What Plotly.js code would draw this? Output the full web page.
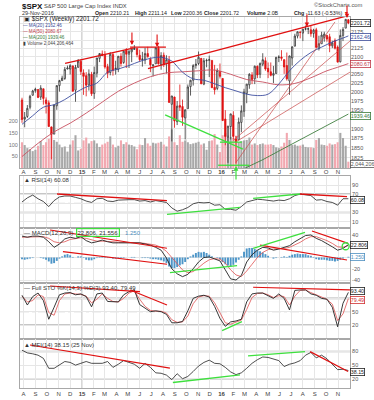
<!DOCTYPE html>
<html><head><meta charset="utf-8">
<script src="https://cdn.plot.ly/plotly-3.0.1.min.js"></script>
<style>html,body{margin:0;padding:0;background:#fff;}#chart{width:374px;height:400px;}</style>
</head><body><div id="chart"></div>
<script>
// ---------- DATA ----------
const firstWeek = [2014, 6, 28];           // Monday of first weekly bar (UTC y, m0, d)
const prevClose0 = 1978;                   // close of week before first bar
const opens = [1978,1926,1933,1958,1991,2004,2007,1986,2009,1978,
 1970,1905,1886,1962,2018,2032,2038,2065,2065,2074,
 2005,2070,2087,2054,2046,2020,2050,1996,2053,2096,
 2109,2105,2072,2055,2107,2065,2064,2102,2084,2120,
 2108,2115,2122,2125,2105,2092,2091,2110,2093,2075,
 2080,2126,2078,2105,2081,2090,1966,1986,1919,1963,
 1960,1929,1954,2015,2033,2075,2081,2096,2022,2089,
 2090,2090,2013,2010,2058,2038,1926,1878,1906,1936,
 1873,1871,1917,1947,1996,2020,2048,2037,2073,2050,
 2079,2089,2067,2057,2047,2052,2100,2100,2092,2075,
 2031,2097,2132,2162,2173,2171,2183,2183,2181,2170,
 2181,2125,2139,2158,2164,2160,2133,2149,2129,2086,
 2164,2186,2212];
const highs = [1984,1945,1964,1992,2006,2012,2008,2019,2009,1985,
 1977,1906,1965,2018,2034,2046,2071,2075,2079,2075,
 2077,2094,2093,2064,2056,2064,2057,2072,2097,2111,
 2119,2117,2080,2114,2114,2089,2103,2111,2120,2126,
 2121,2124,2135,2127,2121,2115,2127,2130,2099,2078,
 2128,2133,2114,2113,2105,2103,1989,1987,1975,2021,
 1979,1952,2021,2034,2079,2094,2116,2097,2097,2095,
 2104,2090,2077,2067,2081,2038,1950,1908,1940,1947,
 1881,1930,1963,2009,2022,2053,2056,2075,2075,2084,
 2111,2099,2084,2084,2074,2100,2105,2120,2093,2113,
 2104,2131,2169,2176,2178,2183,2194,2188,2193,2184,
 2187,2163,2175,2175,2165,2169,2148,2155,2134,2182,
 2189,2213,2213];
const lows = [1916,1904,1929,1952,1990,1998,1983,1978,1965,1941,
 1906,1821,1886,1951,2001,2031,2034,2064,2049,2002,
 1973,2069,2048,1992,1988,2004,1989,1981,2041,2085,
 2103,2066,2039,2047,2046,2049,2056,2072,2080,2068,
 2068,2085,2121,2099,2086,2072,2079,2098,2056,2044,
 2080,2078,2063,2071,2052,1971,1867,1903,1910,1948,
 1908,1872,1954,1990,2018,2066,2076,2022,2019,2070,
 2042,2012,1993,2005,2038,1922,1857,1812,1872,1872,
 1810,1871,1891,1932,1969,2009,2022,2022,2039,2039,
 2073,2060,2039,2044,2025,2052,2085,2089,2051,2032,
 1992,2075,2131,2155,2155,2147,2179,2168,2160,2157,
 2128,2119,2139,2145,2145,2114,2126,2122,2084,2084,
 2147,2186,2198];
const closes = [1925,1931,1955,1988,2003,2008,1985,2011,1982,1968,
 1906,1886,1964,2018,2032,2039,2064,2068,2075,2002,
 2070,2088,2058,2044,2019,2051,1995,2055,2097,2110,
 2104,2071,2053,2108,2061,2067,2102,2081,2117,2108,
 2116,2123,2126,2107,2092,2094,2110,2101,2077,2077,
 2127,2080,2104,2078,2092,1971,1989,1921,1961,1958,
 1931,1951,2014,2033,2075,2079,2099,2023,2089,2090,
 2092,2012,2006,2061,2044,1922,1880,1907,1940,1880,
 1865,1918,1948,2000,2022,2050,2035,2073,2048,2081,
 2092,2065,2057,2047,2052,2099,2099,2096,2071,2037,
 2103,2130,2162,2175,2173,2183,2184,2184,2169,2180,
 2128,2139,2165,2168,2153,2133,2141,2126,2085,2164,
 2182,2213,2201.72];
const volumes = [110,98,85,80,72,78,95,115,98,110,
 125,150,120,112,100,88,92,70,100,118,
 140,75,82,118,130,105,115,118,105,90,
 100,105,112,135,100,88,95,118,102,110,
 100,98,92,80,100,98,128,105,95,108,
 105,108,112,100,92,135,165,110,98,140,
 112,118,110,102,105,108,112,100,105,78,
 115,118,145,100,68,140,150,140,132,128,
 138,110,115,118,120,130,100,105,98,102,
 105,100,100,102,98,88,85,92,108,150,
 120,98,100,95,96,100,90,88,88,85,
 120,128,100,98,95,105,100,102,110,150,
 128,95,27];

const ma20Week = [0,4,8,12,16,20,24,28,32,36,40,44,48,52,56,60,64,68,72,76,80,84,88,92,96,100,104,108,112,116,120,122];
const ma20Vals = [1912,1935,1958,1965,1979,1998,2014,2025,2056,2065,2075,2087,2096,2099,2088,2056,2037,2033,2023,2012,2003,1994,1990,1994,2022,2060,2090,2113,2129,2144,2156,2162.46];
const ma50Week = [0,6,12,18,24,30,36,42,48,54,60,66,72,78,84,90,96,102,108,114,118,122];
const ma50Vals = [1828,1862,1892,1915,1942,1972,2002,2025,2043,2054,2057,2060,2062,2050,2035,2028,2020,2024,2040,2060,2070,2080.67];
const ma200Week = [80,84,90,96,102,108,114,122];
const ma200Vals = [1788,1800,1820,1842,1864,1886,1910,1939.46];

// indicators sampled every 2nd week (week 0,2,...,122)
const rsiVals = [53,62,68,60,54,43,56,64,66,66, 63,60,55,52,60,61,55,54,57,58, 58,58,55,56,53,56,54,52,40,33, 36,41,49,52,51,52,46,47,37,37, 35,43,53,56,59,58,56,55,57,56, 60,67,70,69,67,57,58,54,52,46, 60,60.08];
const macdVals = [38,36,38,38,36,28,18,24,33,36, 34,37,30,26,28,31,28,26,26,26, 26,27,26,24,22,18,13,-1,-20,-29, -34,-30,-20,-8,0,1,-2,-6,-22,-38, -40,-32,-8,5,13,18,17,13,15,18, 21,28,33,39,40,34,30,25,19,13, 16,22.806];
const signalVals = [36,36,37,37,37,34,28,26,28,32, 34,35,34,31,29,29,29,28,27,27, 26,26,26,25,24,22,18,11,0,-12, -22,-27,-25,-18,-10,-4,-2,-3,-10,-22, -31,-34,-24,-12,0,9,14,15,15,16, 18,22,27,33,37,37,34,30,25,19, 18,21.556];
const stoK = [87,65,84,92,75,33,60,88,92,93, 88,90,84,61,90,92,73,72,72,88, 95,99,66,58,50,52,50,44,25,25, 28,52,80,85,87,83,62,35,17,27, 29,33,72,90,92,92,86,80,90,80, 54,98,99,99,90,87,80,78,60,16, 69,93.40];
const stoD = [85,72,75,88,84,48,42,75,90,92, 90,89,85,70,78,90,80,73,72,80, 92,97,78,62,53,51,51,47,32,26, 27,40,68,83,86,85,70,48,25,22, 27,31,55,82,91,92,88,82,86,84, 65,85,98,99,93,88,82,78,67,30, 45,79.49];
const mfiVals = [83,77,75,72,65,43,43,50,58,56, 50,54,58,54,54,54,58,45,52,60, 56,52,43,54,45,33,32,28,18,31, 20,25,36,48,56,61,54,53,45,35, 29,33,43,54,62,68,67,64,60,47, 52,55,60,72,78,66,72,64,52,40, 41,38.15];
// MACD histogram, weekly
const histVals = [-3,-4,-3,-2,-1,0,0,-1,-2,-4, -7,-11,-10,-6,-2,2,5,6,4,1, 0,2,2,-1,-4,-5,-5,-3,-1,1, 2,1,-1,-1,-2,-2,-1,-1,-1,0, 0,1,1,0,0,-1,-1,-1,-2,-3, -3,-4,-5,-7,-10,-16,-19,-19,-17,-14, -12,-8,-3,2,5,8,10,9,10,8, 5,2,0,-1,-3,-8,-12,-14,-16,-13, -9,-4,2,10,16,17,17,15,13,11, 9,6,3,0,-2,-1,0,1,2,1, 3,5,6,7,6,6,6,4,3,1, -3,-4,-4,-4,-5,-6,-6,-7,-6,-4, -2,0,1.25];

const monthTicks = ['2014-08-01','2014-09-01','2014-10-01','2014-11-01','2014-12-01','2015-01-01','2015-02-01','2015-03-01','2015-04-01','2015-05-01','2015-06-01','2015-07-01','2015-08-01','2015-09-01','2015-10-01','2015-11-01','2015-12-01','2016-01-01','2016-02-01','2016-03-01','2016-04-01','2016-05-01','2016-06-01','2016-07-01','2016-08-01','2016-09-01','2016-10-01','2016-11-01'];
const monthLabels = ['A','S','O','N','D','<b>15</b>','F','M','A','M','J','J','A','S','O','N','D','<b>16</b>','F','M','A','M','J','J','A','S','O','N'];
const yearStarts = ['2015-01-01','2016-01-01'];
const priceTicks = [1825,1850,1875,1900,1925,1950,1975,2000,2025,2050,2075,2100,2125,2150,2175,2200];
const priceTickText = ['1825','1850','1875','1900','','1950','1975','2000','2025','2050','','2100','2125','','2175',''];
const volTicks = [50,100,150,200];

// drawn trendlines: [startWeek, startValue, endWeek, endValue]
const priceRedLines = [[16.1,2081,41.5,2126],[40.4,2129,53.8,2129],[47.1,2066,122.6,2226]];
const priceFanLines = [[80,1813,117,2205],[78.9,1869,122.6,2147],[80,1866,122.6,2056]];
const priceGreenLines = [[53.5,1937,82.6,1847],[74.0,1865,82.2,1865],[73.3,1806,84.9,1806]];
const priceRedArrows = [[41.1,2135],[50.5,2129],[106.5,2190],[121.5,2217]];
const priceGreenArrow = [80.0,1804];
const rsiRedLines = [[13.1,70.4,54.2,55.8],[103.9,70.4,121.5,64.5]];
const rsiGreenLines = [[54.2,26,81.5,41.4],[86.4,61,103.9,70.4]];
const macdRedLines = [[10.5,48.9,54.2,16.4],[15.3,10.3,54.2,-12],[108.4,47,121.9,25],[89,22,121.5,-4.4]];
const macdGreenLines = [[55.3,-27,80.4,-14.6],[86.4,16.4,105.8,44.8],[78,-44.8,80.7,-44.8]];
const macdGreenMark = [121,20];
const stoRedLines = [[10.5,107.9,44.1,95],[40.4,98.9,54.2,65],[86.4,105,122.6,98.9]];
const stoGreenLines = [[74.8,7.2,82.2,27.5]];
const mfiRedLines = [[3,94.5,55.3,43.3],[107.7,79.8,121.9,35.8]];
const mfiGreenLines = [[56.4,11.6,81.5,28.6],[84.5,70.3,105.8,79.8]];

// ---------- BUILD ----------
const DAY = 86400000, START = Date.UTC(firstWeek[0], firstWeek[1], firstWeek[2]);
function weekDate(i){ const s = new Date(START + i*7*DAY).toISOString(); return s.slice(0,10)+' '+s.slice(11,19); }
const dates = closes.map((_, i) => weekDate(i));
const ind2 = rsiVals.map((_, k) => weekDate(2*k));
const xRange = [weekDate(-0.748), weekDate(122.617)];

const upI = [], dnI = [];
closes.forEach((c, i) => { const p = i ? closes[i-1] : prevClose0; (c >= p ? upI : dnI).push(i); });
const pick = (a, ix) => ix.map(i => a[i]);
const RED = '#e01010', GREEN = '#3ee03e', BLK = '#222';

const traces = [];
traces.push({type:'bar', x:dates, y:volumes, xaxis:'x', yaxis:'y', width:0.78*7*DAY,
  marker:{color: closes.map((c,i)=> c >= (i?closes[i-1]:prevClose0) ? 'rgb(168,168,168)' : 'rgb(242,168,176)'), line:{width:0}}, hoverinfo:'skip'});
traces.push({type:'scatter', mode:'lines', x:ma200Week.map(weekDate), y:ma200Vals, xaxis:'x', yaxis:'y2', line:{color:'#3f7f3f', width:0.9}});
traces.push({type:'scatter', mode:'lines', x:ma50Week.map(weekDate), y:ma50Vals, xaxis:'x', yaxis:'y2', line:{color:'#c85060', width:0.9, shape:'spline'}});
traces.push({type:'scatter', mode:'lines', x:ma20Week.map(weekDate), y:ma20Vals, xaxis:'x', yaxis:'y2', line:{color:'#4050a0', width:0.9, shape:'spline'}});
function candles(ix, col){
  return {type:'candlestick', x:pick(dates,ix), open:pick(opens,ix), high:pick(highs,ix), low:pick(lows,ix), close:pick(closes,ix),
    xaxis:'x', yaxis:'y2', whiskerwidth:0, hoverinfo:'skip',
    increasing:{line:{color:col, width:0.8}, fillcolor:'#ffffff'},
    decreasing:{line:{color:col, width:0.8}, fillcolor:col}};
}
traces.push(candles(upI, '#333333'));
traces.push(candles(dnI, RED));
function segs(lines, xa, ya, color, width){
  lines.forEach(l => traces.push({type:'scatter', mode:'lines', x:[weekDate(l[0]), weekDate(l[2])], y:[l[1], l[3]],
    xaxis:xa, yaxis:ya, line:{color, width}, hoverinfo:'skip'}));
}
segs(priceFanLines, 'x', 'y2', '#c84848', 0.7);
segs(priceRedLines, 'x', 'y2', RED, 1.3);
segs(priceGreenLines, 'x', 'y2', GREEN, 1.3);

// RSI
traces.push({type:'scatter', mode:'lines', x:ind2, y:rsiVals, xaxis:'x2', yaxis:'y3', line:{color:BLK, width:0.8}});
segs(rsiRedLines, 'x2', 'y3', RED, 1.3); segs(rsiGreenLines, 'x2', 'y3', GREEN, 1.3);
// MACD
traces.push({type:'bar', x:dates, y:histVals, xaxis:'x3', yaxis:'y4', width:0.72*7*DAY, marker:{color:'rgb(78,150,200)', line:{width:0}}});
traces.push({type:'scatter', mode:'lines', x:ind2, y:signalVals, xaxis:'x3', yaxis:'y4', line:{color:'#e05050', width:0.8}});
traces.push({type:'scatter', mode:'lines', x:ind2, y:macdVals, xaxis:'x3', yaxis:'y4', line:{color:BLK, width:0.9}});
segs(macdRedLines, 'x3', 'y4', RED, 1.2); segs(macdGreenLines, 'x3', 'y4', GREEN, 1.3);
traces.push({type:'scatter', mode:'markers', x:[weekDate(macdGreenMark[0])], y:[macdGreenMark[1]], xaxis:'x3', yaxis:'y4',
  marker:{symbol:'circle-open', size:7, color:GREEN, line:{width:1.3, color:GREEN}}});
// STO
traces.push({type:'scatter', mode:'lines', x:ind2, y:stoD, xaxis:'x4', yaxis:'y5', line:{color:'#e05050', width:0.8}});
traces.push({type:'scatter', mode:'lines', x:ind2, y:stoK, xaxis:'x4', yaxis:'y5', line:{color:BLK, width:0.9}});
segs(stoRedLines, 'x4', 'y5', RED, 1.2); segs(stoGreenLines, 'x4', 'y5', GREEN, 1.3);
// MFI
traces.push({type:'scatter', mode:'lines', x:ind2, y:mfiVals, xaxis:'x5', yaxis:'y6', line:{color:BLK, width:0.8}});
segs(mfiRedLines, 'x5', 'y6', RED, 1.2); segs(mfiGreenLines, 'x5', 'y6', GREEN, 1.3);

// ---------- LAYOUT ----------
const FONT = 'Liberation Sans, Arial, sans-serif';
const GRID = '#e6e6e6', FRAME = '#a8a8a8';
const px = x => (x-20)/330, py = y => (388-y)/371;
const xCommon = {type:'date', range:xRange, tickmode:'array', tickvals:monthTicks, ticktext:monthLabels,
  showgrid:true, gridcolor:GRID, gridwidth:1, ticks:'', showline:true, linecolor:FRAME, linewidth:1, mirror:true,
  zeroline:false, tickfont:{size:6, color:'#444'}, fixedrange:true};
const yCommon = {side:'right', showgrid:true, gridcolor:GRID, ticks:'', zeroline:false, showline:true, linecolor:FRAME,
  mirror:true, tickfont:{size:5.5, color:'#555'}, tickmode:'array', fixedrange:true};
const dom = {main:[py(168),1], rsi:[py(228),py(176)], macd:[py(283),py(228)], sto:[py(339),py(283)], mfi:[0,py(339)]};

const shapes = [];
const hline = (yref, v, color, width, dash) => shapes.push({type:'line', layer:'below', xref:'paper', x0:0, x1:1, yref, y0:v, y1:v, line:{color, width, dash:dash||'solid'}});
[30,70].forEach(v => hline('y3', v, '#b4b4b4', 1.6)); hline('y3', 50, '#aaaaaa', 0.8, 'dashdot');
[20,80].forEach(v => hline('y5', v, '#b4b4b4', 1.6)); hline('y5', 50, '#aaaaaa', 0.8, 'dashdot');
[20,80].forEach(v => hline('y6', v, '#b4b4b4', 1.6));
['y domain','y3 domain','y4 domain','y5 domain','y6 domain'].forEach((yr, k) => {
  const xr = ['x','x2','x3','x4','x5'][k];
  yearStarts.forEach(d => shapes.push({type:'line', layer:'below', xref:xr, x0:d, x1:d, yref:yr, y0:0, y1:1, line:{color:'#bcbcbc', width:1.2}}));
});

const ann = [];
const txt = (x, y, text, size, color, extra) => ann.push(Object.assign({xref:'paper', yref:'paper', x:px(x), y:py(y), text,
  showarrow:false, xanchor:'left', yanchor:'middle', font:{size, color, family:FONT}}, extra||{}));
txt(20, 6, '<b>$SPX</b>', 8, '#111');
txt(42, 6.5, 'S&P 500 Large Cap Index INDX', 5.8, '#444');
txt(312, 5, '©StockCharts.com', 5.8, '#555');
txt(20, 13, '29-Nov-2016', 5.5, '#333');
txt(93, 13, '<b>Open</b> 2210.21', 5.3, '#222');
txt(133, 13, '<b>High</b> 2211.14', 5.3, '#222');
txt(169, 13, '<b>Low</b> 2200.36', 5.3, '#222');
txt(202, 13, '<b>Close</b> 2201.72', 5.3, '#222');
txt(245, 13, '<b>Volume</b> 2.0B', 5.3, '#222');
txt(292, 13, '<b>Chg</b> -11.63 (-0.53%) <span style="color:#e01010">▼</span>', 5.3, '#222');
txt(22, 19.5, '▣ $SPX (Weekly) 2201.72', 6.3, '#222');
txt(22, 22.5, '<span style="color:#3a4a98">— MA(20) 2162.46</span><br><span style="color:#c03848">— MA(50) 2080.67</span><br>' +
  '<span style="color:#3a7a3a">— MA(200) 1939.46</span><br><span style="color:#444">▮ Volume 2,044,206,464</span>', 4.6, '#444',
  {yanchor:'top', align:'left', borderpad:0});
txt(22, 180, '▲ RSI(14) 60.08', 6, '#333');
txt(22, 233, '— MACD(12,26,9)', 6, '#333');
txt(76, 233, '22.806, 21.556', 6, '#333', {bordercolor:GREEN, borderwidth:1.2, borderpad:0.3});
txt(123, 233, '1.250', 6, '#4e8fc0');
txt(22, 288, '— Full STO %K(14,3) %D(3) 93.40, 79.49', 6, '#333');
txt(22, 345, '▲ MFI(14) 38.15 (25 Nov)', 6, '#333');

const tag = (yref, y, text, color, ys) => ann.push({xref:'paper', x:1, xanchor:'left', xshift:0, yshift:ys||0, yref, y, yanchor:'middle', text,
  showarrow:false, font:{size:5.3, color, family:FONT}, bgcolor:'#ffffff', bordercolor:color, borderwidth:0.8, borderpad:0});
tag('y2', Math.log10(2201.72), '2201.72', '#222');
tag('y2', Math.log10(2162.46), '2162.46', '#3a4a98', -1.5);
tag('y2', Math.log10(2080.67), '2080.67', '#c03848');
tag('y2', Math.log10(1939.46), '1939.46', '#3a7a3a', -2);
tag('y', 27, '2,044,206,464', '#555', -2);
tag('y3', 60.08, '60.08', '#222', -1.5);
tag('y4', 22.806, '22.806', '#222');
tag('y4', 1.25, '1.250', '#4e8fc0');
tag('y5', 93.40, '93.40', '#222', 1.5);
tag('y5', 79.49, '79.49', '#d03030', -1);
tag('y6', 38.15, '38.15', '#222', -1.5);

priceRedArrows.forEach(a => ann.push({xref:'x', yref:'y2', x:weekDate(a[0]), y:Math.log10(a[1]), text:'', showarrow:true,
  ax:0, ay:-14, arrowhead:2, arrowsize:0.8, arrowwidth:1.1, arrowcolor:RED}));
ann.push({xref:'x', yref:'y2', x:weekDate(priceGreenArrow[0]), y:Math.log10(priceGreenArrow[1]), text:'', showarrow:true,
  ax:0, ay:15, arrowhead:2, arrowsize:0.8, arrowwidth:1.2, arrowcolor:GREEN});

const layout = {
  width:374, height:400, margin:{l:20, r:24, t:17, b:12, pad:0},
  paper_bgcolor:'#ffffff', plot_bgcolor:'#ffffff', showlegend:false,
  font:{family:FONT, size:6, color:'#444'}, boxgap:0.3, barmode:'overlay',
  xaxis: Object.assign({}, xCommon, {anchor:'y', domain:[0,1], rangeslider:{visible:false}, ticklabelstandoff:-2}),
  xaxis2: Object.assign({}, xCommon, {anchor:'y3', matches:'x', showticklabels:false}),
  xaxis3: Object.assign({}, xCommon, {anchor:'y4', matches:'x', showticklabels:false}),
  xaxis4: Object.assign({}, xCommon, {anchor:'y5', matches:'x', showticklabels:false}),
  xaxis5: Object.assign({}, xCommon, {anchor:'y6', matches:'x'}),
  yaxis: {domain:dom.main, anchor:'x', side:'left', range:[0,645], tickmode:'array', tickvals:volTicks, showgrid:false,
    zeroline:false, ticks:'', showline:true, linecolor:FRAME, mirror:true, tickfont:{size:5.5, color:'#777'}, fixedrange:true},
  yaxis2: Object.assign({}, yCommon, {overlaying:'y', anchor:'x', type:'log', range:[Math.log10(1799.1), Math.log10(2220.2)],
    tickvals:priceTicks, ticktext:priceTickText, showline:false}),
  yaxis3: Object.assign({}, yCommon, {domain:dom.rsi, anchor:'x2', range:[-3.7,109.6], tickvals:[10,30,50,70,90], ticktext:['10','30','','70','90']}),
  yaxis4: Object.assign({}, yCommon, {domain:dom.macd, anchor:'x3', range:[-45.3,52.4], tickvals:[-40,-20,0,20,40], ticktext:['-40','-20','','','40']}),
  yaxis5: Object.assign({}, yCommon, {domain:dom.sto, anchor:'x4', range:[-11.5,114.6], tickvals:[20,50,80], ticktext:['20','50','']}),
  yaxis6: Object.assign({}, yCommon, {domain:dom.mfi, anchor:'x5', range:[-0.5,107.7], tickvals:[20,50,80], ticktext:['20','50','80']}),
  shapes, annotations:ann
};
Plotly.newPlot('chart', traces, layout, {staticPlot:true, displayModeBar:false});
</script></body></html>
